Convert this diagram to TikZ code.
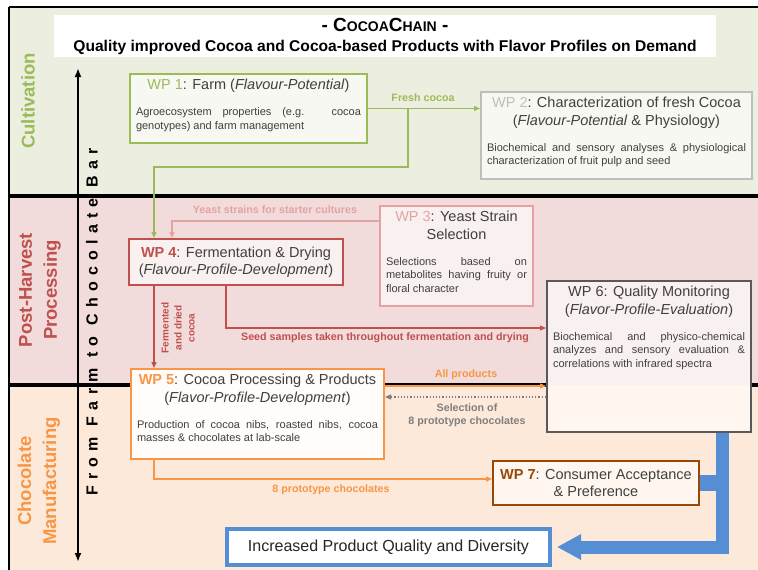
\documentclass[tikz,border=0pt]{standalone}
\usepackage{fontspec}
\setmainfont{Liberation Sans}
\usetikzlibrary{arrows.meta,positioning,calc}

\definecolor{bandgreen}{HTML}{ECEFE0}
\definecolor{bandpink}{HTML}{F2DCDB}
\definecolor{bandpeach}{HTML}{FDE9D9}
\definecolor{wpgreen}{HTML}{9BBB59}
\definecolor{wpgrey}{HTML}{BFBFBF}
\definecolor{wppink}{HTML}{E3A3A2}
\definecolor{wpred}{HTML}{C0504D}
\definecolor{wporange}{HTML}{F79646}
\definecolor{wpdark}{HTML}{595959}
\definecolor{wpbrown}{HTML}{984807}
\definecolor{wpblue}{HTML}{558ED5}
\definecolor{txtgrey}{HTML}{404040}
\definecolor{lblgrey}{HTML}{7F7F7F}

\newcommand{\titlefont}{\fontsize{14.5}{17.5}\selectfont}
\newcommand{\bodyfont}{\fontsize{11}{13.5}\selectfont\hyphenpenalty=10000\exhyphenpenalty=10000}
\newcommand{\lblfont}{\fontsize{10.7}{13}\selectfont\bfseries}
\newcommand{\wptext}[4]{\parbox[c][#2][t]{#1}{{\centering\titlefont #3\par}\vspace{12.5pt}{\bodyfont #4\par}}}

\begin{document}
\begin{tikzpicture}[x=1pt, y=-1pt,
    wp/.style={draw, line width=2pt, fill=white, fill opacity=0.6, text opacity=1,
      text=txtgrey, inner xsep=6pt, inner ysep=5pt},
    lbl/.style={font=\lblfont, inner sep=1pt},
    flow/.style={line width=1.2pt, -{Triangle[length=6pt,width=5pt]}},
    sepline/.style={line width=3.5pt, black},
    band/.style={font=\fontsize{18.5}{25}\selectfont\bfseries, rotate=90, align=center}
  ]
  \useasboundingbox (0,0) rectangle (758,570);

  % bands
  \fill[bandgreen] (9,7) rectangle (758,196);
  \fill[bandpink] (9,196) rectangle (758,385);
  \fill[bandpeach] (9,385) rectangle (758,570);
  \draw[line width=2.5pt] (9,7) -- (758,7);
  \draw[line width=1.8pt] (9,7) -- (9,570);

  \node[band, text=wpgreen] (cult) at (28,101) {Cultivation};
  \node[band, text=wpred] (post) at (40,290) {Post-Harvest\\Processing};
  \node[band, text=wporange] (choc) at (39,481) {Chocolate\\Manufacturing};

  \coordinate (axtop) at (78,68);
  \coordinate (axbot) at (78,562);
  \draw[line width=2.2pt, {Latex[length=9pt,width=7pt]}-{Latex[length=9pt,width=7pt]}] (axbot) -- (axtop);
  \node[rotate=90, font=\fontsize{16}{16}\selectfont\bfseries\addfontfeature{LetterSpace=39}] (axlbl) at (92,322) {From Farm to Chocolate Bar};

  \node[fill=white, minimum width=662pt, minimum height=42pt, align=center, inner sep=0pt,
    font=\fontsize{15.6}{20}\selectfont] (head) at (385,36)
    {{\fontsize{19}{20}\selectfont\bfseries - C{\fontsize{14}{14}\selectfont OCOA}C{\fontsize{14}{14}\selectfont HAIN} -}\\
     {\bfseries Quality improved Cocoa and Cocoa-based Products with Flavor Profiles on Demand}};

  % work packages
  \node[wp, draw=wpgreen] (wp1) at (248.5,108.5) {\wptext{225pt}{59pt}
    {\textcolor{wpgreen}{WP 1}: Farm (\textit{Flavour-Potential})}
    {Agroecosystem properties (e.g. cocoa genotypes) and farm management}};
  \node[wp, draw=wpgrey] (wp2) at (616.5,135.5) {\wptext{259pt}{77pt}
    {\textcolor{wpgrey}{WP 2}: Characterization of fresh Cocoa\\(\textit{Flavour-Potential} \& Physiology)}
    {Biochemical and sensory analyses \& physiological characterization of fruit pulp and seed}};
  \node[wp, draw=wppink] (wp3) at (456.5,256) {\wptext{141pt}{90pt}
    {\textcolor{wppink}{WP 3}: Yeast Strain\\Selection}
    {Selections based on\linebreak metabolites having fruity or\linebreak floral character}};
  \node[wp, draw=wpred, align=center, font=\titlefont, minimum width=214pt, minimum height=46pt] (wp4) at (236,262)
    {\textcolor{wpred}{\bfseries WP 4}: Fermentation \& Drying\\(\textit{Flavour-Profile-Development})};
  \node[wp, draw=wporange, fill opacity=1, fill=white!85!bandpeach] (wp5) at (257.5,414) {\wptext{241pt}{80pt}
    {\textcolor{wporange}{\bfseries WP 5}: Cocoa Processing \& Products\\(\textit{Flavor-Profile-Development})}
    {Production of cocoa nibs, roasted nibs, cocoa masses \& chocolates at lab-scale}};
  \node[wp, draw=wpdark] (wp6) at (649,356.5) {\wptext{192pt}{141pt}
    {WP 6: Quality Monitoring\\(\textit{Flavor-Profile-Evaluation})}
    {Biochemical and physico-chemical analyzes and sensory evaluation \& correlations with infrared spectra}};
  \node[wp, draw=wpbrown, align=center, font=\titlefont, minimum width=206pt, minimum height=44pt] (wp7) at (596,483)
    {\textcolor{wpbrown}{\bfseries WP 7}: Consumer Acceptance\\\& Preference};
  \node[draw=wpblue, line width=4pt, fill=white, text=black!85, font=\fontsize{16}{16}\selectfont,
    minimum width=323pt, minimum height=36pt] (final) at (388.5,547) {Increased Product Quality and Diversity};

  \coordinate (s3) at (9,385);
  \draw[sepline] (9,196) -- (758,196);
  \draw[sepline] (s3) -- (s3 -| wp5.west);
  \draw[sepline] (s3 -| wp5.east) -- (s3 -| wp6.west);
  \draw[sepline] (s3 -| wp6.east) -- (758,385);

  % flows
  \coordinate (fc1) at (408,108.5);
  \coordinate (fc2) at (408,167);
  \coordinate (fc3) at (154,167);
  \draw[flow, wpgreen] (wp1.east) -- (wp1.east -| wp2.west);
  \draw[flow, wpgreen] (fc1) -- (fc2) -- (fc3) -- (fc3 |- wp4.north);
  \node[lbl, text=wpgreen] (freshlbl) at (423,98) {Fresh cocoa};

  \coordinate (ys) at (172,221);
  \draw[flow, wppink] (wp3.west |- ys) -- (ys) -- (ys |- wp4.north);
  \node[lbl, text=wppink] (yeastlbl) at (275,210) {Yeast strains for starter cultures};

  \draw[flow, wpred] (wp4.south -| fc3) -- (fc3 |- wp5.north);
  \node[lbl, text=wpred, rotate=90, align=center, font=\fontsize{10}{13}\selectfont\bfseries] (fermlbl) at (178,328) {Fermented\\and dried\\cocoa};

  \coordinate (sd) at (226,328);
  \draw[flow, wpred] (wp4.south -| sd) -- (sd) -- (sd -| wp6.west);
  \node[lbl, text=wpred] (seedlbl) at (385,338) {Seed samples taken throughout fermentation and drying};

  \coordinate (ap) at (0,386);
  \draw[flow, wporange] (wp5.east |- ap) -- (wp6.west |- ap);
  \node[lbl, text=wporange] (aplbl) at (466,375) {All products};

  \coordinate (sel) at (0,397);
  \draw[flow, lblgrey, dotted] (wp6.west |- sel) -- (wp5.east |- sel);
  \node[lbl, text=lblgrey, align=center] (sellbl) at (467,415) {Selection of\\8 prototype chocolates};

  \coordinate (pc) at (154,479);
  \draw[flow, wporange] (wp5.south -| pc) -- (pc) -- (pc -| wp7.west);
  \node[lbl, text=wporange] (pclbl) at (331,490) {8 prototype chocolates};

  \coordinate (bx) at (722,547);
  \draw[wpblue, line width=16pt] (wp7.east) -- (wp7.east -| bx);
  \draw[wpblue, line width=13pt, line join=miter, -{Triangle[length=24pt,width=24pt]}] (wp6.south -| bx) -- (bx) -- ([xshift=5pt]final.east);
\end{tikzpicture}
\end{document}
